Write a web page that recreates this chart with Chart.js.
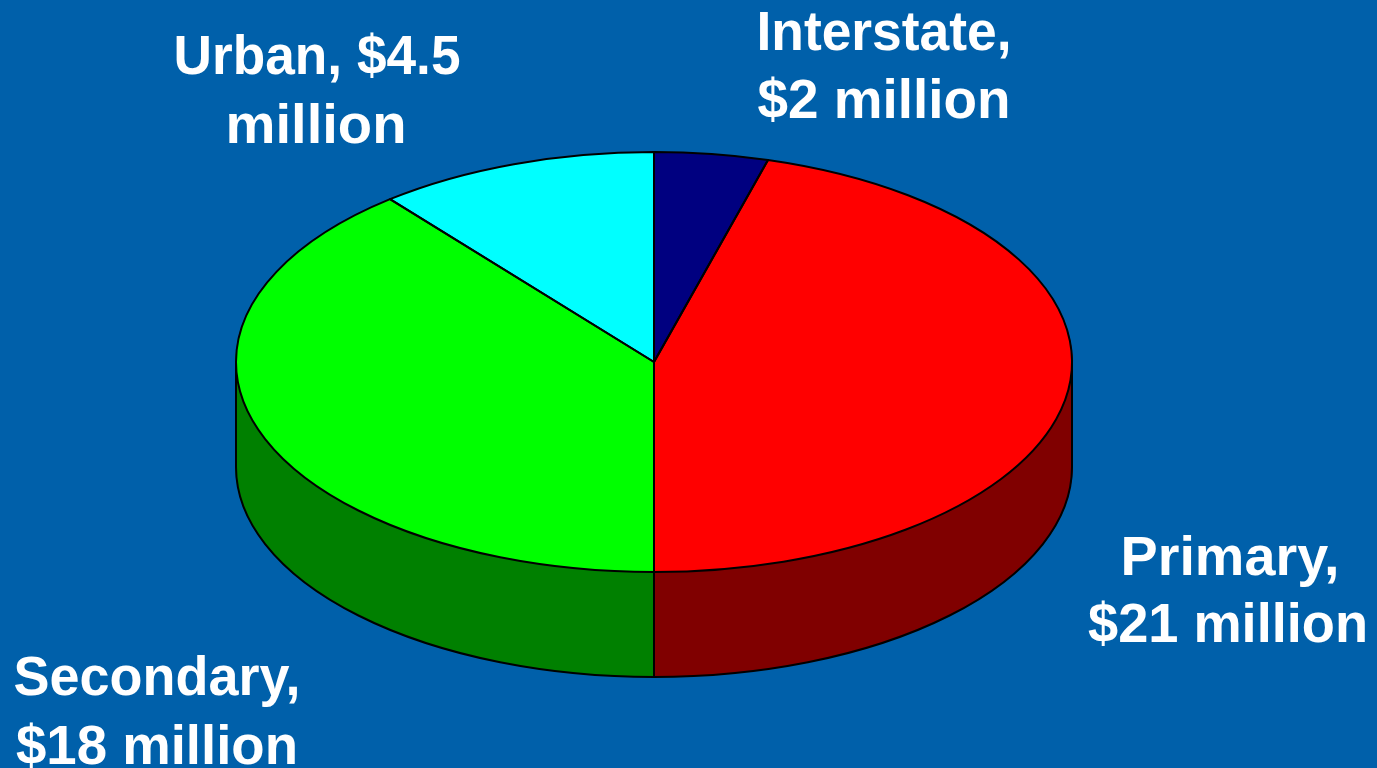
<!DOCTYPE html>
<html>
<head>
<meta charset="utf-8">
<title>Funding by road system</title>
<script src="https://cdn.jsdelivr.net/npm/chart.js@4"></script>
<style>
    html, body { margin: 0; padding: 0; background: #0060AA; overflow: hidden; }
    canvas { display: block; }
</style>
</head>
<body>
<canvas id="chart" width="1377" height="768"></canvas>
<script>
const categories = ['Interstate', 'Primary', 'Secondary', 'Urban'];
// slice sizes as drawn in the picture, the printed labels round them a bit differently
const sliceValues = [2, 20.75, 17.8, 4.95];
const labelLines = [
    ['Interstate,', '$2 million'],
    ['Primary,', '$21 million'],
    ['Secondary,', '$18 million'],
    ['Urban, $4.5', 'million']
];
const topColors = ['#000080', '#FF0000', '#00FF00', '#00FFFF'];
const sideColors = ['#000040', '#800000', '#008000', '#008080'];

// where the tilted pie goes on the page
const pie = { cx: 654, cy: 362, rx: 418, ry: 210, depth: 105 };
// centre x, baseline y and width of each text line
const labelLayout = [
    [[884, 50, 255], [884, 118, 253]],
    [[1230, 575, 219], [1228, 642, 280]],
    [[157, 695, 287], [157, 764, 282]],
    [[317, 74, 287], [316, 143, 181]]
];

function tilt(ctx, arc, drop) {
    const r = arc.outerRadius;
    ctx.translate(pie.cx, pie.cy + drop);
    ctx.scale(pie.rx / r, pie.ry / r);
    ctx.translate(-arc.x, -arc.y);
}

function drawArc(ctx, arc, drop, color) {
    const saved = arc.options;
    arc.options = { ...saved, backgroundColor: color, borderColor: color, borderWidth: 1 };
    ctx.save();
    tilt(ctx, arc, drop);
    arc.draw(ctx);
    ctx.restore();
    arc.options = saved;
}

function strokeOutline(ctx) {
    ctx.lineWidth = 2;
    ctx.strokeStyle = '#000';
    ctx.lineJoin = 'round';
    ctx.stroke();
}

const tiltedPie = {
    id: 'tiltedPie',
    beforeDatasetsDraw(chart) {
        const ctx = chart.ctx;
        const arcs = chart.getDatasetMeta(0).data;
        for (let d = pie.depth; d >= 0; d--) {
            arcs.forEach((arc, i) => drawArc(ctx, arc, d, sideColors[i]));
        }
        // outline of the wall, in page pixels so the line keeps its width
        ctx.save();
        ctx.beginPath();
        ctx.moveTo(pie.cx - pie.rx, pie.cy);
        ctx.lineTo(pie.cx - pie.rx, pie.cy + pie.depth);
        ctx.ellipse(pie.cx, pie.cy + pie.depth, pie.rx, pie.ry, 0, Math.PI, 0, true);
        ctx.lineTo(pie.cx + pie.rx, pie.cy);
        // seams on the front of the wall
        arcs.forEach(arc => {
            const a = arc.endAngle;
            if (Math.sin(a) > 0) {
                const x = pie.cx + pie.rx * Math.cos(a);
                const y = pie.cy + pie.ry * Math.sin(a);
                ctx.moveTo(x, y);
                ctx.lineTo(x, y + pie.depth);
            }
        });
        strokeOutline(ctx);
        ctx.restore();
        ctx.save();
        tilt(ctx, arcs[0], 0);
    },
    afterDatasetsDraw(chart) {
        const ctx = chart.ctx;
        ctx.restore();
        // slice outlines: path built tilted, stroked untilted
        chart.getDatasetMeta(0).data.forEach(arc => {
            ctx.save();
            tilt(ctx, arc, 0);
            ctx.beginPath();
            ctx.moveTo(arc.x, arc.y);
            ctx.arc(arc.x, arc.y, arc.outerRadius, arc.startAngle, arc.endAngle);
            ctx.closePath();
            ctx.restore();
            ctx.save();
            strokeOutline(ctx);
            ctx.restore();
        });
    },
    afterDraw(chart) {
        const ctx = chart.ctx;
        ctx.save();
        ctx.fillStyle = '#FFFFFF';
        ctx.font = 'bold 56px "Liberation Sans", Arial, sans-serif';
        ctx.textAlign = 'center';
        ctx.textBaseline = 'alphabetic';
        labelLines.forEach((lines, i) => {
            lines.forEach((line, j) => {
                const [x, y, w] = labelLayout[i][j];
                ctx.save();
                ctx.translate(x, y);
                ctx.scale(w / ctx.measureText(line).width, 1);
                ctx.fillText(line, 0, 0);
                ctx.restore();
            });
        });
        ctx.restore();
    }
};

new Chart(document.getElementById('chart').getContext('2d'), {
    type: 'pie',
    data: {
        labels: categories,
        datasets: [{
            data: sliceValues,
            backgroundColor: topColors,
            borderWidth: 0,
            clip: false
        }]
    },
    options: {
        responsive: false,
        animation: false,
        events: [],
        plugins: {
            legend: { display: false },
            tooltip: { enabled: false }
        }
    },
    plugins: [tiltedPie]
});
</script>
</body>
</html>
